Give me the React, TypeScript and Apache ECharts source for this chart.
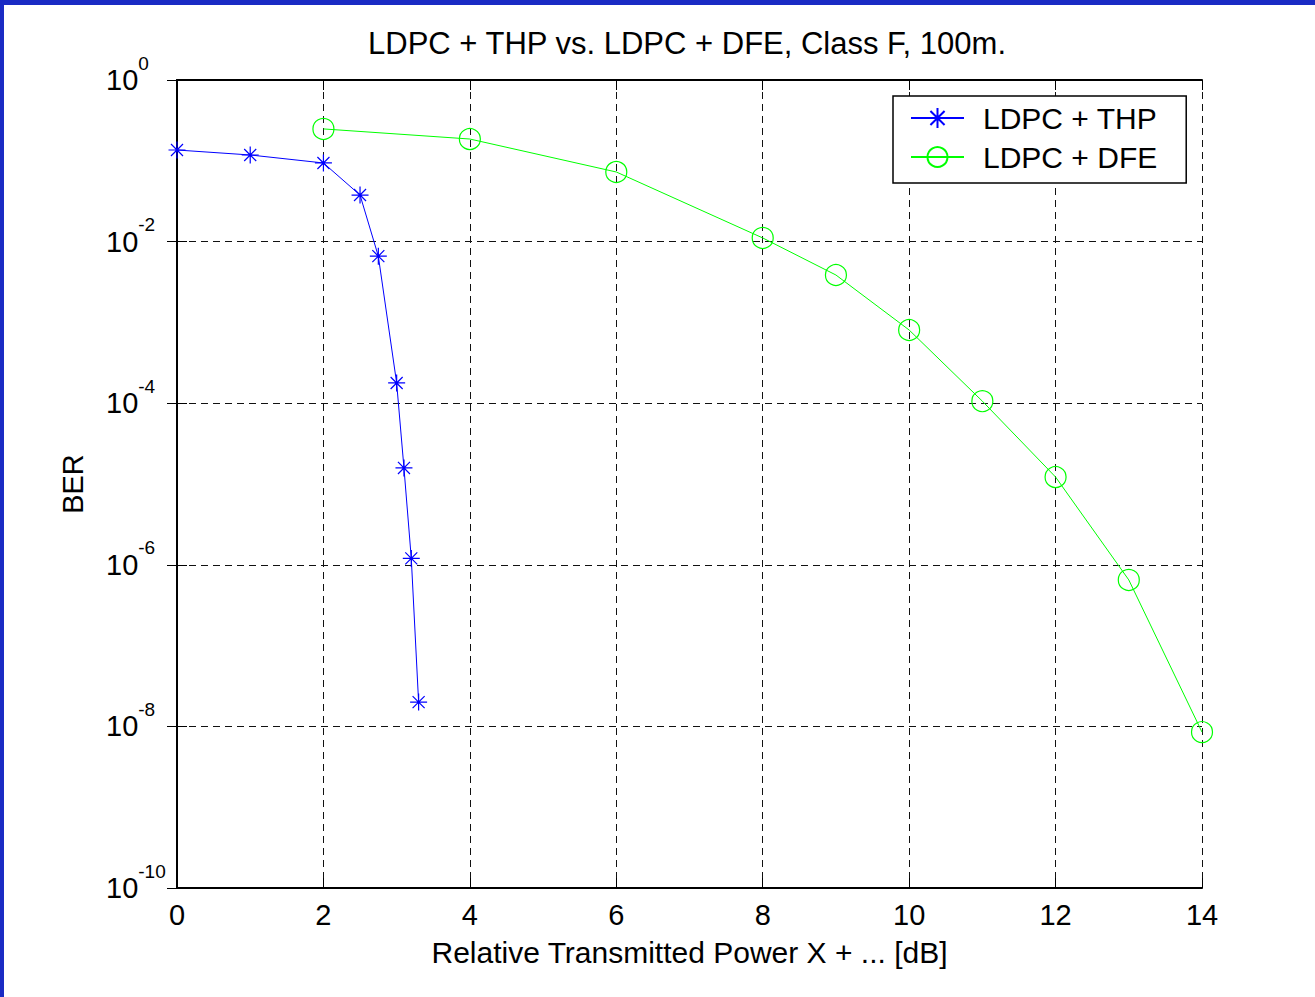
import React, { useEffect, useRef } from "react";
import * as echarts from "echarts";

const titleText = "LDPC + THP vs. LDPC + DFE, Class F, 100m.";
const xAxisName = "Relative Transmitted Power X + ... [dB]";
const yAxisName = "BER";

const thpName = "LDPC + THP";
const thpX = [0, 1, 2, 2.5, 2.75, 3, 3.1, 3.2, 3.3];
const thpY = [0.136, 0.118, 0.094, 0.0377, 0.0066, 1.78e-4, 1.58e-5, 1.2e-6, 2e-8];

const dfeName = "LDPC + DFE";
const dfeX = [2, 4, 6, 8, 9, 10, 11, 12, 13, 14];
const dfeY = [0.248, 0.186, 0.0727, 0.0111, 0.00386, 8.05e-4, 1.06e-4, 1.22e-5, 6.5e-7, 8.5e-9];

const xMin = 0;
const xMax = 14;
const xStep = 2;
const yMin = 1e-10;
const yMax = 1;

const FONT = "Liberation Sans, Arial, sans-serif";
const STAR = "path://M0 -10 L0 10 M-10 0 L10 0 M-7.07 -7.07 L7.07 7.07 M-7.07 7.07 L7.07 -7.07";

export default function App() {
  const ref = useRef<HTMLDivElement>(null);
  useEffect(() => {
    if (!ref.current) return;
    const chart = echarts.init(ref.current, null, { renderer: "svg" });
    const dashed = { show: true, lineStyle: { color: "#111", width: 1, type: [7, 5] as any } };
    const axisLine = { show: true, lineStyle: { color: "#000", width: 2 } };
    const tick = { show: true, inside: true, length: 10, lineStyle: { color: "#000", width: 1 } };
    const option: any = {
      animation: false,
      backgroundColor: "#fff",
      textStyle: { fontFamily: FONT },
      title: {
        text: titleText,
        left: 687,
        top: 28,
        textAlign: "center",
        padding: 0,
        textStyle: { fontFamily: FONT, fontSize: 31, fontWeight: "normal", color: "#000" },
      },
      graphic: [
        { type: "rect", left: 0, top: 0, shape: { width: 1315, height: 5 }, style: { fill: "#1A2BC4" }, z: 100 },
        { type: "rect", left: 0, top: 0, shape: { width: 4, height: 997 }, style: { fill: "#1A2BC4" }, z: 100 },
      ],
      legend: {
        orient: "vertical",
        left: 893,
        top: 96,
        padding: [7, 29, 11, 17],
        itemGap: 9,
        itemWidth: 53,
        itemHeight: 25,
        borderColor: "#000",
        borderWidth: 1.5,
        backgroundColor: "#fff",
        textStyle: { fontFamily: FONT, fontSize: 30, color: "#000", padding: [0, 0, 0, 14] },
        data: [thpName, dfeName],
      },
      grid: { left: 177, top: 80, right: 113, bottom: 109, show: false },
      xAxis: [
        {
          type: "value",
          min: xMin,
          max: xMax,
          interval: xStep,
          name: xAxisName,
          nameLocation: "middle",
          nameGap: 49,
          nameTextStyle: { fontFamily: FONT, fontSize: 30, color: "#000" },
          axisLine,
          axisTick: tick,
          splitLine: dashed,
          axisLabel: { fontFamily: FONT, fontSize: 29, color: "#000", margin: 12 },
        },
        {
          type: "value",
          position: "top",
          min: xMin,
          max: xMax,
          interval: xStep,
          axisLine,
          axisTick: tick,
          splitLine: { show: false },
          axisLabel: { show: false },
        },
      ],
      yAxis: [
        {
          type: "log",
          logBase: 10,
          min: yMin,
          max: yMax,
          interval: 2,
          name: yAxisName,
          nameLocation: "middle",
          nameGap: 90,
          nameTextStyle: { fontFamily: FONT, fontSize: 29, color: "#000" },
          axisLine,
          axisTick: tick,
          splitLine: dashed,
          axisLabel: {
            margin: 71,
            align: "left",
            formatter: (v: number) => `{b|10}{s|${Math.round(Math.log10(v))}}`,
            rich: {
              b: { fontFamily: FONT, fontSize: 29, color: "#000", lineHeight: 53, verticalAlign: "middle" },
              s: { fontFamily: FONT, fontSize: 19, color: "#000", lineHeight: 19, verticalAlign: "top" },
            },
          },
        },
        {
          type: "log",
          logBase: 10,
          position: "right",
          min: yMin,
          max: yMax,
          interval: 2,
          axisLine,
          axisTick: tick,
          splitLine: { show: false },
          axisLabel: { show: false },
        },
      ],
      series: [
        {
          name: thpName,
          type: "line",
          data: thpX.map((x, i) => [x, thpY[i]]),
          symbol: STAR,
          symbolSize: 17,
          lineStyle: { color: "#0000FF", width: 1 },
          itemStyle: { color: "rgba(0,0,0,0)", borderColor: "#0000FF", borderWidth: 1.2 },
          z: 3,
        },
        {
          name: dfeName,
          type: "line",
          data: dfeX.map((x, i) => [x, dfeY[i]]),
          symbol: "circle",
          symbolSize: 21,
          showAllSymbol: true,
          lineStyle: { color: "#00FF00", width: 1 },
          itemStyle: { color: "rgba(0,0,0,0)", borderColor: "#00FF00", borderWidth: 1.2 },
          z: 2,
        },
      ],
    };
    chart.setOption(option);
    return () => chart.dispose();
  }, []);
  return (
    <div
      ref={ref}
      style={{ position: "fixed", left: 0, top: 0, width: 1315, height: 997, background: "#fff" }}
    />
  );
}
